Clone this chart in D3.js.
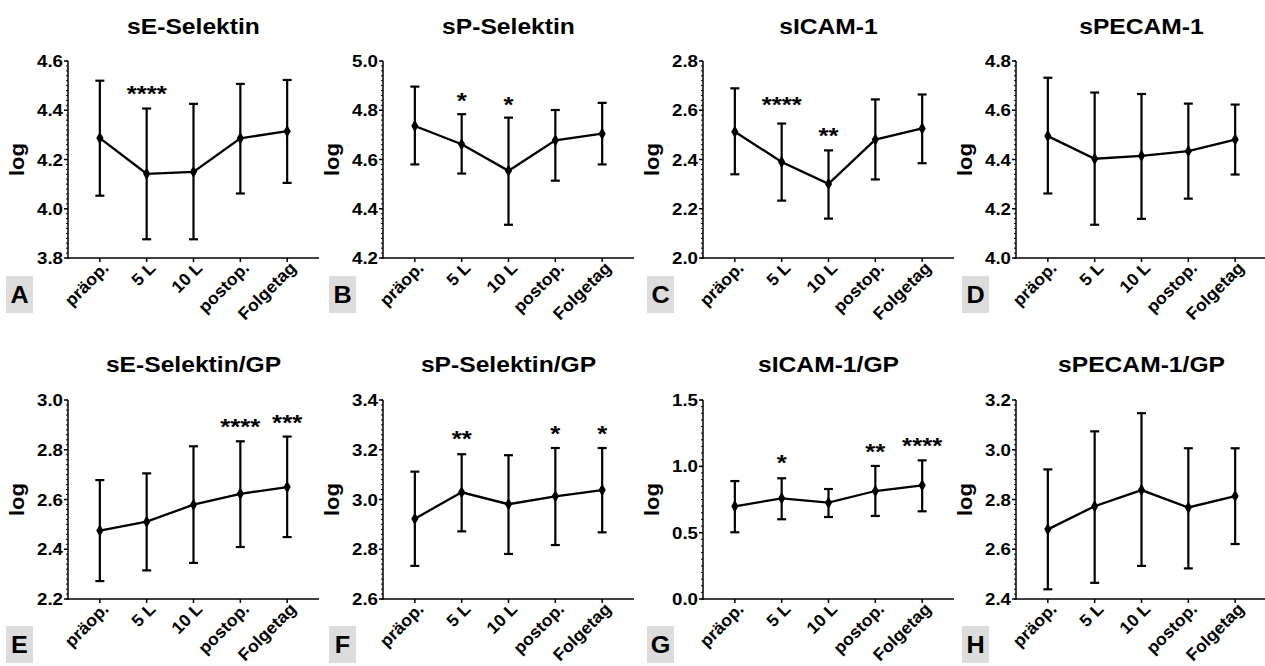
<!DOCTYPE html>
<html><head><meta charset="utf-8">
<script src="https://cdn.jsdelivr.net/npm/d3@7"></script>
<style>
body{margin:0;background:#fff;}
text{font-family:"Liberation Sans",Arial,sans-serif;font-weight:bold;fill:#000;}
</style></head>
<body><svg id="c" width="1265" height="666"></svg>
<script>
const categories = ["präop.", "5 L", "10 L", "postop.", "Folgetag"];
const titles = ["sE-Selektin","sP-Selektin","sICAM-1","sPECAM-1","sE-Selektin/GP","sP-Selektin/GP","sICAM-1/GP","sPECAM-1/GP"];
const letters = ["A","B","C","D","E","F","G","H"];
const yMin = [3.8, 4.2, 2.0, 4.0, 2.2, 2.6, 0.0, 2.4];
const yMax = [4.6, 5.0, 2.8, 4.8, 3.0, 3.4, 1.5, 3.2];
const yStep = [0.2, 0.2, 0.2, 0.2, 0.2, 0.2, 0.5, 0.2];
const meanA = [4.287, 4.142, 4.150, 4.286, 4.315];
const upA   = [4.520, 4.407, 4.426, 4.507, 4.523];
const loA   = [4.053, 3.876, 3.876, 4.062, 4.105];
const meanB = [4.736, 4.662, 4.554, 4.678, 4.705];
const upB   = [4.896, 4.784, 4.770, 4.801, 4.830];
const loB   = [4.580, 4.543, 4.335, 4.514, 4.580];
const meanC = [2.513, 2.390, 2.301, 2.481, 2.526];
const upC   = [2.689, 2.546, 2.437, 2.644, 2.664];
const loC   = [2.340, 2.233, 2.160, 2.319, 2.385];
const meanD = [4.495, 4.403, 4.415, 4.434, 4.481];
const upD   = [4.732, 4.672, 4.666, 4.627, 4.623];
const loD   = [4.262, 4.135, 4.159, 4.241, 4.339];
const meanE = [2.475, 2.511, 2.579, 2.623, 2.650];
const upE   = [2.678, 2.705, 2.814, 2.834, 2.853];
const loE   = [2.272, 2.315, 2.345, 2.409, 2.449];
const meanF = [2.923, 3.029, 2.981, 3.013, 3.038];
const upF   = [3.112, 3.182, 3.178, 3.207, 3.207];
const loF   = [2.733, 2.872, 2.781, 2.817, 2.868];
const meanG = [0.699, 0.759, 0.726, 0.814, 0.857];
const upG   = [0.889, 0.910, 0.829, 1.003, 1.045];
const loG   = [0.503, 0.601, 0.618, 0.626, 0.661];
const meanH = [2.680, 2.773, 2.838, 2.768, 2.814];
const upH   = [2.921, 3.074, 3.147, 3.006, 3.006];
const loH   = [2.439, 2.465, 2.533, 2.523, 2.621];
const means = [meanA, meanB, meanC, meanD, meanE, meanF, meanG, meanH];
const uppers = [upA, upB, upC, upD, upE, upF, upG, upH];
const lowers = [loA, loB, loC, loD, loE, loF, loG, loH];
// significance stars: panel, category index, label, y value
const starPanel = [0, 1, 1, 2, 2, 4, 4, 5, 5, 5, 6, 6, 6];
const starCat   = [1, 1, 2, 1, 2, 3, 4, 1, 3, 4, 1, 3, 4];
const starText  = ["****","*","*","****","**","****","***","**","*","*","*","**","****"];
const starY     = [4.489, 4.862, 4.845, 2.644, 2.518, 2.917, 2.933, 3.266, 3.289, 3.289, 1.073, 1.153, 1.198];

const svg = d3.select("#c");
const colAxisX = [68, 383, 703, 1016];
const colBoxX = [6, 329, 647, 962];
const rowTop = [61, 400], rowBot = [258, 599];
const rowTitleY = [34, 372], rowBoxY = [276, 626];
const plotW = 251;

function txt(g, x, y, s, size, anchor, rot, sx) {
  return g.append("text")
    .attr("transform", `translate(${x},${y})` + (rot ? ` rotate(${rot})` : "") + ` scale(${sx},1)`)
    .attr("text-anchor", anchor || "start")
    .style("font-size", size + "px")
    .text(s);
}

for (let p = 0; p < 8; p++) {
  const col = p % 4, row = Math.floor(p / 4);
  const ax = colAxisX[col];
  const g = svg.append("g");
  const x = d3.scalePoint().domain(categories).range([ax, ax + plotW]).padding(0.68);
  const y = d3.scaleLinear().domain([yMin[p], yMax[p]]).range([rowBot[row], rowTop[row]]);

  txt(g, ax + plotW / 2, rowTitleY[row], titles[p], 22, "middle", 0, 1.12);

  const majors = d3.range(yMin[p], yMax[p] + 1e-9, yStep[p]);
  const minors = d3.range(yMin[p], yMax[p] + 1e-9, yStep[p] / 10);
  g.append("g").selectAll("line").data(minors).join("line")
    .attr("x1", ax - 2).attr("x2", ax).attr("y1", d => y(d)).attr("y2", d => y(d))
    .attr("stroke", "#000").attr("stroke-width", 1);
  g.append("g").selectAll("line").data(majors).join("line")
    .attr("x1", ax - 4).attr("x2", ax).attr("y1", d => y(d)).attr("y2", d => y(d))
    .attr("stroke", "#000").attr("stroke-width", 1.5);
  g.append("line").attr("x1", ax).attr("x2", ax).attr("y1", y(yMin[p]) + 0.75).attr("y2", y(yMax[p]))
    .attr("stroke", "#000").attr("stroke-width", 1.5);
  majors.forEach(v => {
    txt(g, ax - 5, y(v) + 6, d3.format(".1f")(v), 17, "end", 0, 1.1);
  });
  txt(g, ax - 44, (rowTop[row] + rowBot[row]) / 2, "log", 21, "middle", -90, 1.05);

  g.append("line").attr("x1", ax).attr("x2", ax + plotW).attr("y1", y(yMin[p])).attr("y2", y(yMin[p]))
    .attr("stroke", "#000").attr("stroke-width", 1.5);
  categories.forEach(c => {
    g.append("line").attr("x1", x(c)).attr("x2", x(c)).attr("y1", y(yMin[p])).attr("y2", y(yMin[p]) + 4)
      .attr("stroke", "#000").attr("stroke-width", 1.5);
    txt(g, x(c) + 10, y(yMin[p]) + 11, c, 17, "end", -45, 1.04);
  });

  categories.forEach((c, i) => {
    const cx = x(c);
    g.append("line").attr("x1", cx).attr("x2", cx).attr("y1", y(uppers[p][i])).attr("y2", y(lowers[p][i]))
      .attr("stroke", "#000").attr("stroke-width", 2.2);
    [uppers[p][i], lowers[p][i]].forEach(v => {
      g.append("line").attr("x1", cx - 4.5).attr("x2", cx + 4.5).attr("y1", y(v)).attr("y2", y(v))
        .attr("stroke", "#000").attr("stroke-width", 2.2);
    });
  });
  const line = d3.line().x((d, i) => x(categories[i])).y(d => y(d));
  g.append("path").attr("d", line(means[p])).attr("fill", "none").attr("stroke", "#000").attr("stroke-width", 2.3);
  g.selectAll(".m").data(means[p]).join("path")
    .attr("transform", (d, i) => `translate(${x(categories[i])},${y(d)})`)
    .attr("d", d3.symbol().type(d3.symbolDiamond).size(45)).attr("fill", "#000");

  starPanel.forEach((sp, k) => {
    if (sp !== p) return;
    txt(g, x(categories[starCat[k]]), y(starY[k]) + 13, starText[k], 23, "middle", 0, 1.12);
  });

  const bx = colBoxX[col], by = rowBoxY[row];
  g.append("rect").attr("x", bx).attr("y", by).attr("width", 27).attr("height", 37).attr("fill", "#dcdcdc");
  txt(g, bx + 13.5, by + 27, letters[p], 24, "middle", 0, 1.05);
}
</script></body></html>
